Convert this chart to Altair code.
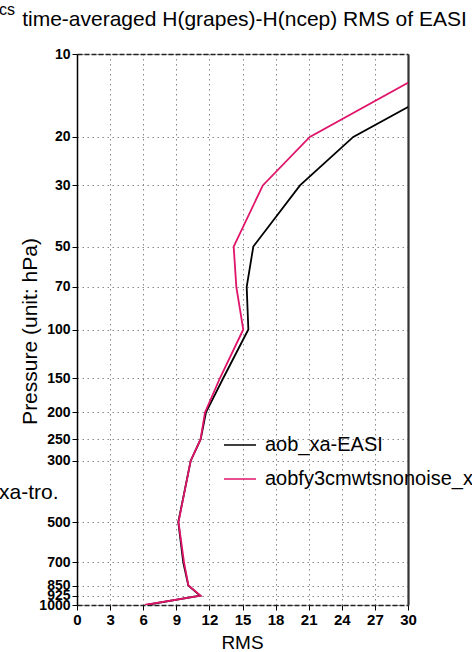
import altair as alt
import pandas as pd

levels = [1000, 925, 850, 700, 500, 300, 250, 200, 150, 100, 70, 50, 30, 20, 10]
rms_easi = [6.25, 11.15, 10.09, 9.63, 9.18, 10.3, 11.21, 11.69, 13.26, 15.53, 15.38, 15.98, 20.21, 25.04, 38.8]
rms_fy3 = [6.15, 11.2, 10.1, 9.7, 9.2, 10.3, 11.2, 11.6, 12.96, 15.07, 14.44, 14.2, 16.84, 21.1, 34.7]
series_names = ["aob_xa-EASI", "aobfy3cmwtsnonoise_xa-EASI"]
series_colors = ["#000000", "#e0146a"]
x_ticks = [0, 3, 6, 9, 12, 15, 18, 21, 24, 27, 30]
y_ticks = [10, 20, 30, 50, 70, 100, 150, 200, 250, 300, 500, 700, 850, 925, 1000]
title_text = "time-averaged H(grapes)-H(ncep) RMS of EASI"
fragments = ["cs", "xa-tro."]

rows = []
for name, vals in zip(series_names, [rms_easi, rms_fy3]):
    for i, (p, v) in enumerate(zip(levels, vals)):
        rows.append({"series": name, "p": p, "rms": v, "order": i})
df = pd.DataFrame(rows)

THIN = "Liberation Sans, Arial, sans-serif"
TICKF = "Liberation Sans Narrow, Liberation Sans, Arial, sans-serif"

xscale = alt.Scale(domain=[0, 30], nice=False, zero=False)
yscale = alt.Scale(type="log", domain=[10, 1000], reverse=True, nice=False)

lines = alt.Chart(df).mark_line(clip=True, strokeWidth=1.8).encode(
    x=alt.X("rms:Q", scale=xscale,
            axis=alt.Axis(values=x_ticks, format="d", title="RMS", grid=True,
                          gridDash=[1.5, 3.5], gridColor="#888888", gridOpacity=1,
                          domainColor="#222222", domainDash=[5, 2], domainWidth=1.5,
                          tickColor="#000000", tickSize=5, labelPadding=2,
                          labelFlush=False, labelBound=False,
                          labelFont=TICKF, labelFontSize=15, labelFontWeight="bold",
                          labelColor="#000000",
                          titleFont=THIN, titleFontSize=19, titleFontWeight="normal",
                          titleColor="#000000", titleX=165, titleY=37,
                          titleBaseline="middle", titleAlign="center")),
    y=alt.Y("p:Q", scale=yscale,
            axis=alt.Axis(values=y_ticks, format="d", title="Pressure (unit: hPa)",
                          grid=True, gridDash=[1.5, 3.5], gridColor="#888888",
                          gridOpacity=1, domainColor="#000000", domainWidth=1.5,
                          tickColor="#000000", tickSize=5, labelPadding=2,
                          labelFont=TICKF, labelFontSize=14, labelFontWeight="bold",
                          labelColor="#000000", labelOverlap=False,
                          labelBound=False, labelFlush=False,
                          titleFont=THIN, titleFontSize=21, titleFontWeight="normal",
                          titleColor="#000000", titleX=-47, titleY=277,
                          titleAngle=270, titleBaseline="middle", titleAlign="center")),
    color=alt.Color("series:N",
                    scale=alt.Scale(domain=series_names, range=series_colors),
                    legend=alt.Legend(orient="none", legendX=146, legendY=374,
                                      title=None, symbolType="stroke",
                                      symbolSize=1024, symbolStrokeWidth=1.5,
                                      labelFont=THIN, labelFontSize=20,
                                      labelColor="#000000", labelLimit=0,
                                      labelOffset=8, rowPadding=7, padding=0)),
    order="order:Q",
)

frame = alt.Chart(df).mark_point(opacity=0).encode(
    x=alt.X("rms:Q", scale=xscale,
            axis=alt.Axis(orient="top", labels=False, ticks=False, grid=False,
                          title=None, domainColor="#222222", domainDash=[5, 2],
                          domainWidth=1.5)),
    y=alt.Y("p:Q", scale=yscale,
            axis=alt.Axis(orient="right", labels=False, ticks=False, grid=False,
                          title=None, domainColor="#333333", domainWidth=2.2)),
)

text_df = pd.DataFrame({"t": [title_text] + fragments})
title_mark = alt.Chart(text_df).transform_filter(alt.datum.t == title_text).mark_text(
    font=THIN, fontSize=21, align="center", baseline="alphabetic", color="#000000"
).encode(text="t:N", x=alt.value(167.5), y=alt.value(-28))
frag1 = alt.Chart(text_df).transform_filter(alt.datum.t == "cs").mark_text(
    font=THIN, fontSize=16, align="left", baseline="middle", color="#000000"
).encode(text="t:N", x=alt.value(-78), y=alt.value(-44))
frag2 = alt.Chart(text_df).transform_filter(alt.datum.t == "xa-tro.").mark_text(
    font=THIN, fontSize=21, align="left", baseline="middle", color="#000000"
).encode(text="t:N", x=alt.value(-78), y=alt.value(439))

chart = alt.layer(lines, frame, title_mark, frag1, frag2).resolve_axis(
    x="independent", y="independent"
).properties(
    width=331, height=551,
    autosize=alt.AutoSizeParams(type="none"),
    padding={"left": 77, "top": 54, "right": 64, "bottom": 47},
).configure_view(stroke=None).configure(background="white")

chart.save("out.html", embed_options={"renderer": "svg", "actions": False})
